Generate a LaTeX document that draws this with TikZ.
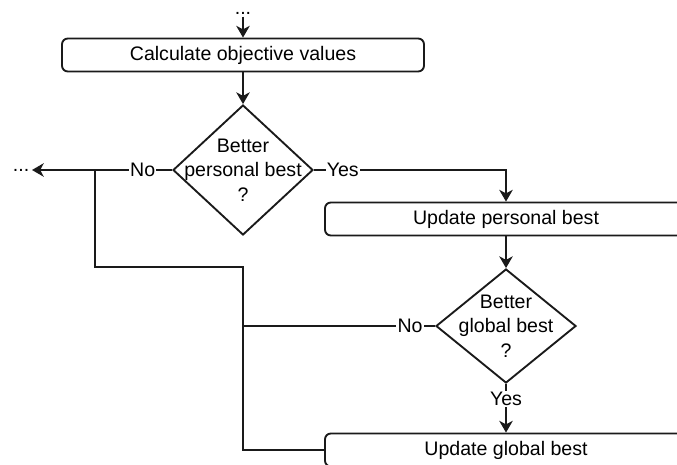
\documentclass[tikz,border=0pt]{standalone}
\usepackage{fontspec}
\setmainfont{Liberation Sans}
\usetikzlibrary{arrows.meta, shapes.geometric}
\definecolor{cline}{HTML}{1A1A1A}
\tikzset{
  every picture/.style={font=\fontsize{16.7}{21}\selectfont, line width=1.6pt, draw=cline},
  box/.style={draw=cline, rounded corners=5pt, align=center, minimum width=10.86cm, minimum height=0.99cm, inner sep=0pt},
  decision/.style={draw=cline, diamond, inner sep=0pt, minimum width=4.2cm, minimum height=#1},
  decision/.default=3.9cm,
  arrow/.style={-{Stealth[length=10pt, width=11.5pt, inset=3pt]}, draw=cline},
  lab/.style={fill=white, inner sep=1pt},
  dots/.style={inner sep=1.5pt},
}

\begin{document}
\begin{tikzpicture}[x=0.03cm, y=-0.03cm]
  \useasboundingbox (0,0) rectangle (677,464);
  \clip (0,0) rectangle (677,464);
  % nodes
  \node[dots] (topdots) at (243,13) {...};
  \node[box] (calc) at (243,55) {Calculate objective values};
  \node[decision, label={[align=center]center:Better\\personal best\\?}] (pb) at (243,170) {};
  \node[dots, anchor=east] (leftdots) at (32,170) {...};
  \node[box] (upb) at (506,219) {Update personal best};
  \node[decision=3.42cm, label={[align=center]center:Better\\global best\\?}] (gb) at (506,326) {};
  \node[box] (ugb) at (506,450) {Update global best};
  \coordinate (split) at (95,170);
  \coordinate (bend) at (243,267);
  % connectors
  \draw[arrow] (topdots) -- (calc);
  \draw[arrow] (calc) -- (pb);
  \draw[arrow] (pb.east) -| node[lab, pos=0.075] {Yes} (upb.north);
  \draw[arrow] (pb.west) -- node[lab, pos=0.21] {No} (leftdots.east |- pb.west);
  \draw (split) |- (bend) |- (ugb.west);
  \draw[arrow] (upb) -- (gb);
  \draw (gb.west) -- node[lab, pos=0.13] {No} (gb.west -| bend);
  \draw[arrow] (gb) -- node[lab, pos=0.3] {Yes} (ugb);
\end{tikzpicture}
\end{document}
